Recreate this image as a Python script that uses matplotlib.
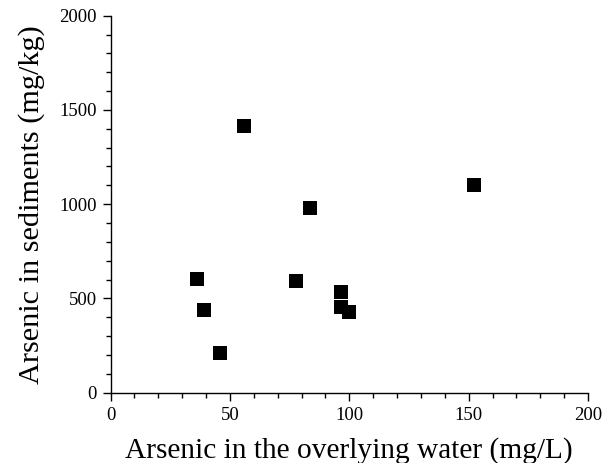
import matplotlib
matplotlib.use("Agg")
import matplotlib.pyplot as plt
from matplotlib.ticker import MultipleLocator

# arsenic in overlying water (mg/L) vs arsenic in sediments (mg/kg)
water = [55.8, 152.2, 83.6, 36.3, 77.6, 96.5, 39.2, 96.5, 100.0, 45.8]
sediment = [1415, 1102, 981, 603, 593, 534, 438, 453, 428, 212]

plt.rcParams['font.family'] = ['Liberation Serif', 'DejaVu Serif']

fig = plt.figure(figsize=(6.04, 4.63), dpi=100)
ax = fig.add_axes([0.183, 0.152, 0.7905, 0.814])

ax.scatter(water, sediment, marker='s', s=100, color='black', linewidths=0, zorder=3)

ax.set_xlim(0, 200)
ax.set_ylim(0, 2000)
ax.xaxis.set_major_locator(MultipleLocator(50))
ax.xaxis.set_minor_locator(MultipleLocator(10))
ax.yaxis.set_major_locator(MultipleLocator(500))
ax.yaxis.set_minor_locator(MultipleLocator(100))

for side in ['top', 'right']:
    ax.spines[side].set_visible(False)
for side in ['left', 'bottom']:
    ax.spines[side].set_linewidth(1.0)

ax.tick_params(which='major', length=6, width=1, direction='out', labelsize=13.5, colors='black', pad=4)
ax.tick_params(which='minor', length=3.5, width=1, direction='out')

ax.set_xlabel('Arsenic in the overlying water (mg/L)', fontsize=21.2, labelpad=10)
ax.set_ylabel('Arsenic in sediments (mg/kg)', fontsize=21.8, labelpad=10)

fig.savefig('out.png', dpi=100)
